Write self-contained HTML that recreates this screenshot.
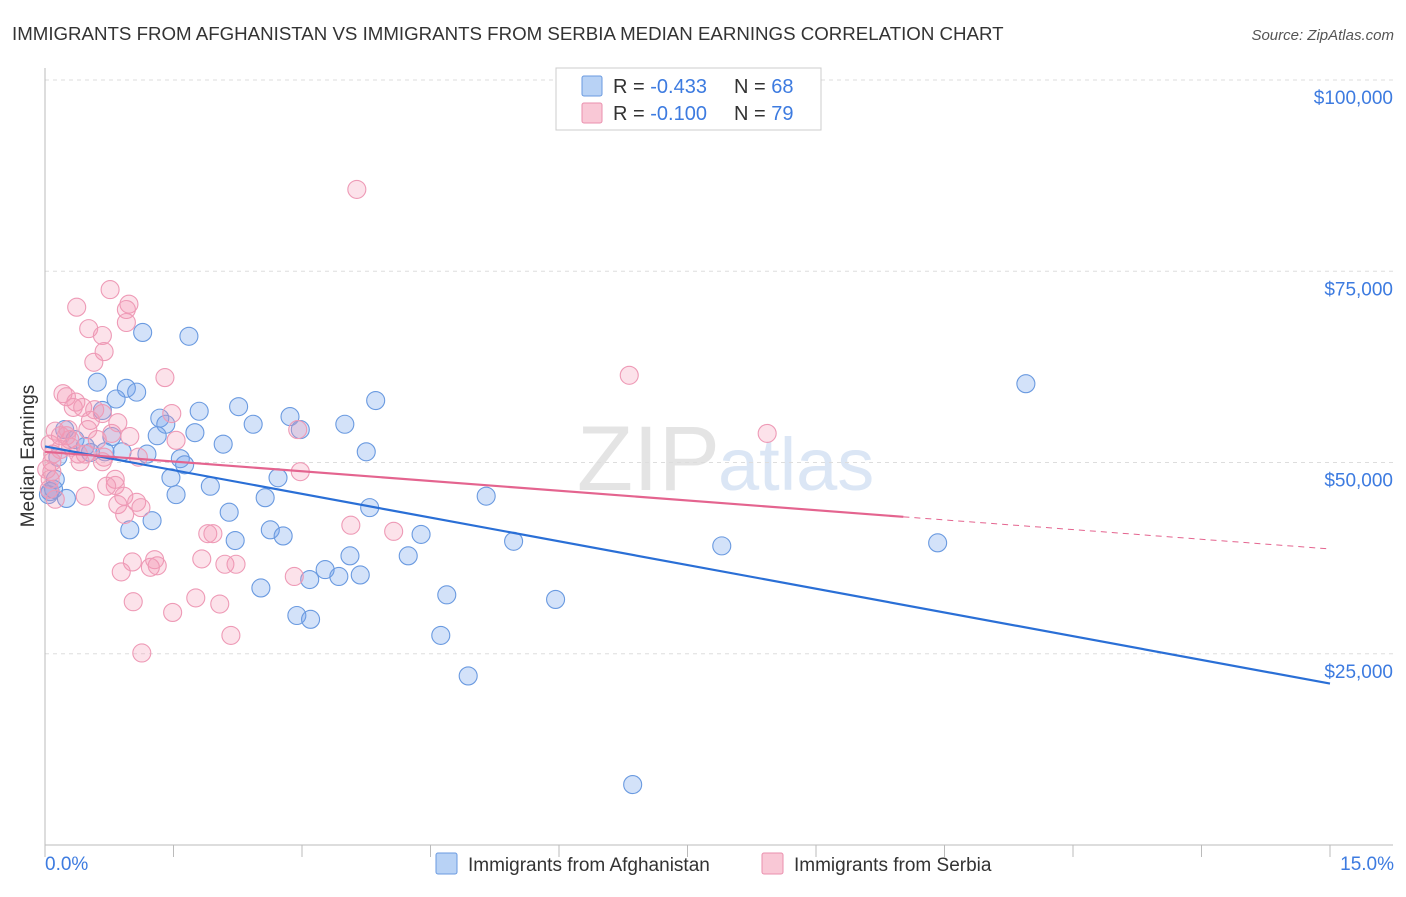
<!DOCTYPE html>
<html><head><meta charset="utf-8"><style>
body{margin:0;background:#fff;font-family:"Liberation Sans",sans-serif;}
svg text{font-family:"Liberation Sans",sans-serif;}
</style></head><body>
<svg id="c" width="1406" height="892">
<text x="12" y="40" font-size="18.7" fill="#333">IMMIGRANTS FROM AFGHANISTAN VS IMMIGRANTS FROM SERBIA MEDIAN EARNINGS CORRELATION CHART</text>
<text x="1394" y="40" font-size="15" fill="#555" font-style="italic" text-anchor="end">Source: ZipAtlas.com</text>
<text x="720" y="490" font-size="92" fill="#e4e4e4" text-anchor="end" font-family="Liberation Serif">ZIP</text>
<text x="718" y="490" font-size="74" fill="#dbe6f5">atlas</text>
<g id="grid"></g>
<g id="marks"></g>
<text x="34" y="456" font-size="19" fill="#333" text-anchor="middle" transform="rotate(-90 34 456)">Median Earnings</text>
<text x="45" y="870" font-size="19" fill="#3d7be0">0.0%</text>
<text x="1394" y="870" font-size="19" fill="#3d7be0" text-anchor="end">15.0%</text>
<g>
<rect x="556" y="68" width="265" height="62" fill="#fff" stroke="#ccc"/>
<rect x="582" y="76" width="20" height="20" fill="#b8d2f5" stroke="#6a9ae0" rx="2"/>
<rect x="582" y="103" width="20" height="20" fill="#f9c8d6" stroke="#ea8fae" rx="2"/>
<text x="613" y="93" font-size="20" fill="#333">R = <tspan fill="#3d7be0">-0.433</tspan></text>
<text x="734" y="93" font-size="20" fill="#333">N = <tspan fill="#3d7be0">68</tspan></text>
<text x="613" y="120" font-size="20" fill="#333">R = <tspan fill="#3d7be0">-0.100</tspan></text>
<text x="734" y="120" font-size="20" fill="#333">N = <tspan fill="#3d7be0">79</tspan></text>
</g>
<g>
<rect x="436" y="853" width="21" height="21" fill="#b8d2f5" stroke="#6a9ae0" rx="2"/>
<text x="468" y="871" font-size="19" fill="#333">Immigrants from Afghanistan</text>
<rect x="762" y="853" width="21" height="21" fill="#f9c8d6" stroke="#ea8fae" rx="2"/>
<text x="794" y="871" font-size="19" fill="#333">Immigrants from Serbia</text>
</g>
</svg>
<script>
const yTicks=[25000,50000,75000,100000];
const yTickLabels=["$25,000","$50,000","$75,000","$100,000"];
const xTicks=[0,1.5,3,4.5,6,7.5,9,10.5,12,13.5,15];
const afgX=[1.14,1.68,0.61,0.95,1.07,0.83,3.86,11.45,0.67,1.34,1.80,2.26,2.86,3.50,1.41,1.31,1.75,2.43,0.78,2.08,2.98,3.75,0.23,0.35,0.47,0.70,0.90,1.19,1.58,1.63,1.47,2.72,1.93,1.53,2.57,5.15,3.79,0.12,0.06,0.25,1.25,2.15,0.99,2.63,2.78,2.22,4.39,5.47,7.90,10.42,3.56,4.24,3.27,3.09,3.43,3.68,2.52,4.69,5.96,2.94,3.10,4.62,4.94,6.86,0.15,0.53,0.04,0.10];
const afgY=[67000,66500,60500,59700,59200,58300,58100,60300,56800,55800,56700,57300,56000,55000,55000,53500,53900,55000,53400,52400,54300,51400,54300,53000,52100,51400,51400,51100,50500,49700,48000,48000,46900,45800,45400,45600,44100,47800,46200,45300,42400,43500,41200,41200,40400,39800,40600,39700,39100,39500,37800,37800,36000,34700,35100,35300,33600,32700,32100,30000,29500,27400,22100,7900,50700,51300,45800,46500];
const srbX=[3.64,0.76,0.98,0.37,0.95,0.95,0.51,0.67,0.69,0.57,1.40,6.82,0.21,0.25,0.36,0.33,0.44,0.58,0.67,1.48,0.53,0.85,2.95,8.43,0.12,0.18,0.25,0.29,0.78,0.61,0.99,1.53,0.06,0.18,0.39,0.47,0.69,1.09,0.08,0.41,0.67,2.98,0.08,0.82,0.82,0.72,0.92,0.47,1.07,1.12,0.85,0.93,3.57,4.07,1.90,1.96,0.12,0.05,1.02,1.28,0.89,1.23,1.31,1.83,2.10,2.23,2.91,1.03,1.76,2.04,1.49,2.17,1.13,0.02,0.06,0.27,0.50,0.09,0.30];
const srbY=[85700,72600,70700,70300,70000,68300,67500,66600,64500,63100,61100,61400,59000,58600,57900,57200,57200,56900,56400,56400,55500,55200,54300,53800,54100,53500,53500,53000,53800,53000,53400,52900,52400,51700,51100,51100,50700,50700,50100,50100,50100,48800,48800,47800,47000,46900,45600,45600,44800,44100,44500,43200,41800,41000,40700,40700,45200,46500,37000,37300,35700,36300,36500,37400,36700,36700,35100,31800,32300,31500,30400,27400,25100,49100,47800,54300,54300,51100,52000];
const afgTrend=[52100,21100];
const srbTrend=[51400,42900,38700];
const srbTrendX=[0,10.02,15];
const NS="http://www.w3.org/2000/svg";
const L=45,R=1330,B=845;
const sx=v=>L+(R-L)*v/15;
const sy=v=>B-(B-80)*v/100000;
function mk(t,a,p){const e=document.createElementNS(NS,t);for(const k in a)e.setAttribute(k,a[k]);p.appendChild(e);return e;}
const g=document.getElementById('grid'),m=document.getElementById('marks');
yTicks.forEach((t,i)=>{
 const ln=mk('line',{x1:L,x2:1393,y1:sy(t),y2:sy(t),stroke:'#ddd','stroke-dasharray':'4,4'},g);
 
 
 const tx=mk('text',{x:1393,y:sy(t)+24,'font-size':19,fill:'#3d7be0','text-anchor':'end'},g);
 tx.textContent=yTickLabels[i];
 
 
});
const ax=mk('line',{x1:L,x2:L,y1:68,y2:B,stroke:'#bbb'},g);


const bx=mk('line',{x1:L,x2:1393,y1:B,y2:B,stroke:'#bbb'},g);


xTicks.forEach(t=>{
 const tk=mk('line',{x1:sx(t),x2:sx(t),y1:B,y2:B+12,stroke:'#bbb'},g);
 
 
});
afgX.forEach((x,i)=>{
 const c=mk('circle',{cx:sx(x),cy:sy(afgY[i]),r:9,fill:'rgba(110,160,235,0.3)',stroke:'#6a9ae0','stroke-width':1.1},m);
 
 
});
srbX.forEach((x,i)=>{
 const c=mk('circle',{cx:sx(x),cy:sy(srbY[i]),r:9,fill:'rgba(245,150,180,0.28)',stroke:'#ee9ab6','stroke-width':1.1},m);
 
 
});
const bt=mk('line',{x1:sx(0),y1:sy(afgTrend[0]),x2:sx(15),y2:sy(afgTrend[1]),stroke:'#2a6fd6','stroke-width':2.2},m);


const pt=mk('line',{x1:sx(srbTrendX[0]),y1:sy(srbTrend[0]),x2:sx(srbTrendX[1]),y2:sy(srbTrend[1]),stroke:'#e4648f','stroke-width':2.2},m);


const pd=mk('line',{x1:sx(srbTrendX[1]),y1:sy(srbTrend[1]),x2:sx(srbTrendX[2]),y2:sy(srbTrend[2]),stroke:'#e4648f','stroke-width':1,'stroke-dasharray':'6,5'},m);


</script>
</body></html>
